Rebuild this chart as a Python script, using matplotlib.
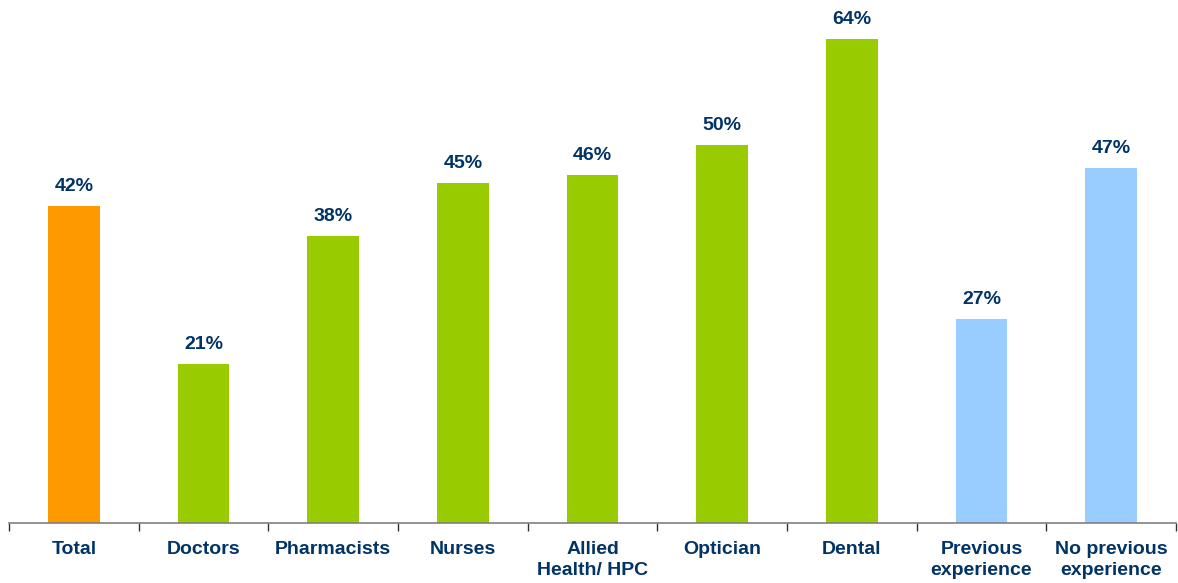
import matplotlib
matplotlib.use("Agg")
import matplotlib.pyplot as plt
import numpy as np

categories = ["Total", "Doctors", "Pharmacists", "Nurses", "Allied\nHealth/ HPC",
              "Optician", "Dental", "Previous\nexperience", "No previous\nexperience"]
values = [42, 21, 38, 45, 46, 50, 64, 27, 47]
colors = ["#FF9900", "#99CC00", "#99CC00", "#99CC00", "#99CC00",
          "#99CC00", "#99CC00", "#99CCFF", "#99CCFF"]

plt.rcParams['font.family'] = ['Liberation Sans', 'DejaVu Sans']
text_color = "#003366"

fig = plt.figure(figsize=(11.78, 5.83), dpi=100)
ax = fig.add_axes([9/1178, 60/583, (1176-9)/1178, 523/583])

x = np.arange(len(categories))
ax.bar(x, values, width=0.4, color=colors, zorder=2)
for xi, v in zip(x, values):
    ax.text(xi, v + 1.45, f"{v}%", ha="center", va="bottom", fontsize=14,
            fontweight="bold", color=text_color)

ax.set_xlim(-0.5, len(categories) - 0.5)
ax.set_ylim(0, 69.2)
ax.set_xticks(x)
ax.set_xticklabels(categories, fontsize=14, fontweight="bold", color=text_color,
                   linespacing=1.3)
ax.tick_params(axis="x", which="major", length=0, pad=13)
ax.set_xticks(np.arange(-0.5, len(categories), 1.0), minor=True)
ax.tick_params(axis="x", which="minor", length=6, width=1, color="#333333", direction="out")
ax.set_yticks([])
for s in ["top", "right", "left"]:
    ax.spines[s].set_visible(False)
ax.spines["bottom"].set_color("#808080")
ax.spines["bottom"].set_linewidth(1.2)

fig.savefig("out.png", dpi=100)
